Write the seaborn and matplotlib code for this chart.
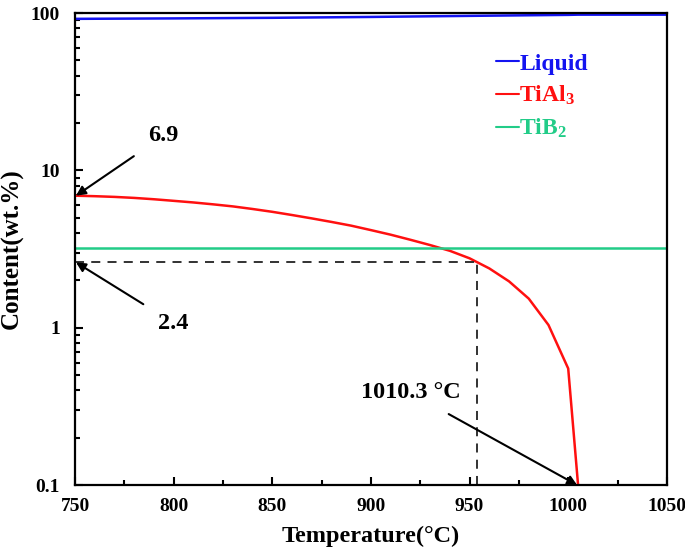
"""Phase content vs temperature (log scale) for Liquid, TiAl3 and TiB2."""
import numpy as np
import pandas as pd
import matplotlib
matplotlib.use("Agg")
import matplotlib.pyplot as plt
from matplotlib.ticker import FixedLocator, LogLocator, MultipleLocator, NullFormatter
import seaborn as sns

# data
liquid_temp = [750, 800, 850, 900, 950, 1000, 1005, 1050]
liquid_content = [91.8, 92.4, 93.2, 94.4, 95.9, 97.3, 97.6, 97.6]

tial3_temp = [750, 760, 770, 780, 790, 800, 810, 820, 830, 840, 850, 860, 870,
              880, 890, 900, 910, 920, 930, 940, 950, 960, 970, 980, 990, 1000, 1005]
tial3_content = [6.9, 6.85, 6.78, 6.68, 6.55, 6.4, 6.25, 6.08, 5.9, 5.68, 5.45,
                 5.2, 4.95, 4.7, 4.45, 4.17, 3.9, 3.62, 3.35, 3.08, 2.76,
                 2.38, 1.97, 1.53, 1.04, 0.55, 0.1]

tib2_temp = [750, 1050]
tib2_content = [3.2, 3.2]

cutoff_temp = 954
cutoff_content = 2.6

y_ticks = [0.1, 1, 10, 100]
y_tick_labels = ["0.1", "1", "10", "100"]
x_ticks = [750, 800, 850, 900, 950, 1000, 1050]

BLUE = "#1414f0"
RED = "#ff1010"
GREEN = "#22cc88"

sns.set_theme(style="ticks")
plt.rcParams["font.family"] = ["Liberation Serif", "DejaVu Serif"]
plt.rcParams["font.weight"] = "bold"
plt.rcParams["text.color"] = "black"
plt.rcParams["axes.labelcolor"] = "black"
plt.rcParams["xtick.color"] = "black"
plt.rcParams["ytick.color"] = "black"
plt.rcParams["mathtext.fontset"] = "custom"
plt.rcParams["mathtext.rm"] = "Liberation Serif:bold"
plt.rcParams["mathtext.default"] = "rm"

df = pd.concat([
    pd.DataFrame({"T": liquid_temp, "c": liquid_content, "phase": "Liquid"}),
    pd.DataFrame({"T": tial3_temp, "c": tial3_content, "phase": "TiAl$_3$"}),
    pd.DataFrame({"T": tib2_temp, "c": tib2_content, "phase": "TiB$_2$"}),
])

fig = plt.figure(figsize=(6.85, 5.58), dpi=100)
ax = fig.add_axes([0.1095, 0.1308, 0.864, 0.8459])

sns.lineplot(data=df, x="T", y="c", hue="phase", sort=False, estimator=None,
             palette=[BLUE, RED, GREEN], linewidth=1.8, ax=ax)

ax.plot([750, cutoff_temp], [cutoff_content, cutoff_content],
        color="#222222", linestyle=(0, (5, 4)), linewidth=1.3)
ax.plot([cutoff_temp, cutoff_temp], [0.1, cutoff_content],
        color="#222222", linestyle=(0, (5, 4)), linewidth=1.3)

ax.set_yscale("log")
ax.set_xlim(750, 1050)
ax.set_ylim(0.1, 100)

ax.xaxis.set_major_locator(FixedLocator(x_ticks))
ax.xaxis.set_minor_locator(MultipleLocator(25))
ax.yaxis.set_major_locator(FixedLocator(y_ticks))
ax.set_yticklabels(y_tick_labels)
ax.yaxis.set_minor_locator(LogLocator(base=10, subs=np.arange(2, 10)))
ax.yaxis.set_minor_formatter(NullFormatter())

ax.tick_params(which="both", direction="in", top=False, right=False,
               labelsize=14, width=1.5)
ax.tick_params(axis="x", which="major", pad=9)
ax.tick_params(axis="y", which="major", pad=11)
ax.tick_params(which="major", length=6)
ax.tick_params(which="minor", length=3.8)
for sp in ax.spines.values():
    sp.set_linewidth(1.6)
    sp.set_color("black")

ax.set_xlabel("Temperature(\u00b0C)", fontsize=17.5, fontweight="bold", labelpad=8)
ax.set_ylabel("Content(wt.%)", fontsize=18, fontweight="bold")
ax.yaxis.set_label_coords(-0.086, 0.5)

leg = ax.legend(loc="upper left", bbox_to_anchor=(0.675, 0.96), frameon=False,
                handlelength=1.0, handletextpad=0.0, labelcolor="linecolor",
                fontsize=17, labelspacing=0.4)
for line in leg.get_lines():
    line.set_linewidth(1.5)

arrow = dict(arrowstyle="-|>", color="black", lw=1.5, mutation_scale=14)
ax.annotate("6.9", xy=(750.5, 6.9), xytext=(795, 16.6), fontsize=17.5,
            fontweight="bold", ha="center", va="center",
            arrowprops=dict(arrow, shrinkA=10, shrinkB=0))
ax.annotate("2.4", xy=(750.5, cutoff_content), xytext=(800, 1.07), fontsize=17.5,
            fontweight="bold", ha="center", va="center",
            arrowprops=dict(arrow, shrinkA=10, shrinkB=0))
ax.annotate("1010.3 \u00b0C", xy=(1004.5, 0.1), xytext=(920, 0.385), fontsize=17.5,
            fontweight="bold", ha="center", va="center",
            arrowprops=dict(arrow, shrinkA=11, shrinkB=0))

fig.savefig("out.png", dpi=100)
